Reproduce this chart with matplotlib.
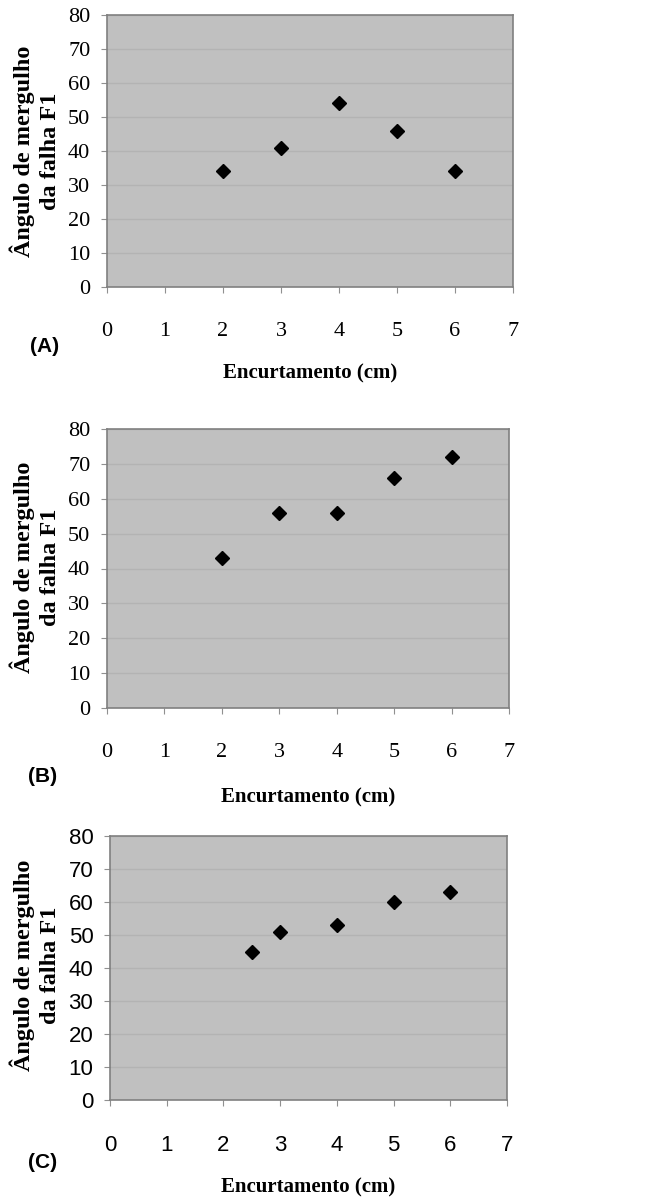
import matplotlib
matplotlib.use("Agg")
import matplotlib.pyplot as plt

# shortening (cm) and dip angle of fault F1 for each model
x_a = [2, 3, 4, 5, 6]
y_a = [34, 41, 54, 46, 34]

x_b = [2, 3, 4, 5, 6]
y_b = [43, 56, 56, 66, 72]

x_c = [2.5, 3, 4, 5, 6]
y_c = [45, 51, 53, 60, 63]

panel_labels = ["(A)", "(B)", "(C)"]
xlabel = "Encurtamento (cm)"
ylabel = "Ângulo de mergulho\nda falha F1"

W, H = 651, 1198
fig = plt.figure(figsize=(W / 100, H / 100), dpi=100)

# axes boxes in pixels: left, top, right, bottom
boxes = [(107, 15, 513, 287), (107, 429, 509, 708), (110, 836, 507, 1100)]
tick_fonts = ["Liberation Serif", "Liberation Serif", "Liberation Sans"]
tick_sizes = [16, 16, 16]
letter_pos = [(45, 346), (43, 776), (43, 1162)]
xlabel_y = [373, 797, 1187]
ylabel_pos = [(35, 151), (35, 567), (35, 965)]
data = [(x_a, y_a), (x_b, y_b), (x_c, y_c)]

for i, (xs, ys) in enumerate(data):
    l, t, r, b = boxes[i]
    ax = fig.add_axes([l / W, 1 - b / H, (r - l) / W, (b - t) / H])
    ax.set_facecolor("#c0c0c0")
    ax.set_xlim(0, 7)
    ax.set_ylim(0, 80)
    ax.set_xticks(range(0, 8))
    ax.set_yticks(range(0, 81, 10))
    ax.grid(axis="y", color="#b3b3b3", linewidth=1)
    ax.set_axisbelow(True)
    for s in ax.spines.values():
        s.set_color("#808080")
        s.set_linewidth(1.2)
    ax.tick_params(axis="x", colors="#909090", length=4, pad=21, labelcolor="black")
    ax.tick_params(axis="y", colors="#909090", length=4, pad=8, labelcolor="black")
    for lab in ax.get_xticklabels() + ax.get_yticklabels():
        lab.set_fontfamily(tick_fonts[i])
        lab.set_fontsize(tick_sizes[i])
    ax.plot(xs, ys, "D", color="black", markersize=7.5, linestyle="none")

    fig.text(letter_pos[i][0] / W, 1 - letter_pos[i][1] / H, panel_labels[i],
             fontfamily="Liberation Sans", fontweight="bold", fontsize=15,
             ha="center", va="center")
    fig.text((l + r) / 2 / W, 1 - xlabel_y[i] / H, xlabel,
             fontfamily="Liberation Serif", fontweight="bold", fontsize=15,
             ha="center", va="center")
    fig.text(ylabel_pos[i][0] / W, 1 - ylabel_pos[i][1] / H, ylabel,
             fontfamily="Liberation Serif", fontweight="bold", fontsize=17.5,
             ha="center", va="center", rotation=90, linespacing=1.3)

fig.savefig("out.png", dpi=100, facecolor="white")
